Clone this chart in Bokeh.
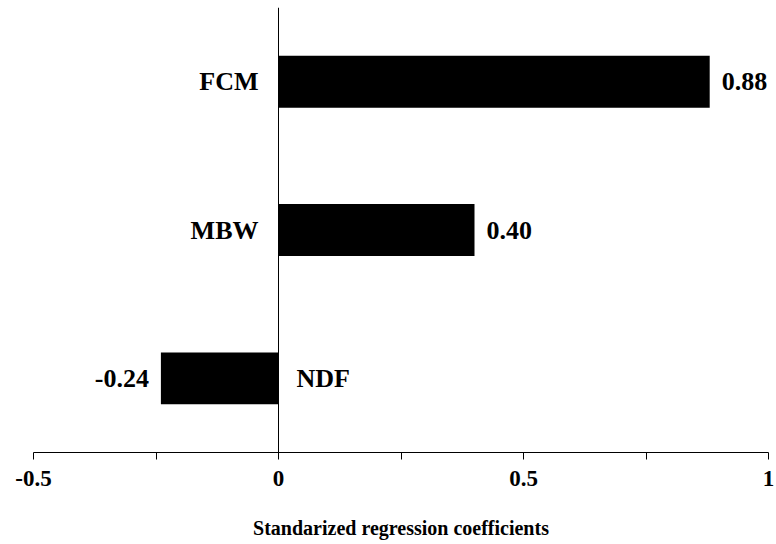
from bokeh.plotting import figure
from bokeh.models import ColumnDataSource, Span, FixedTicker, Range1d
from bokeh.core.properties import value
from bokeh.embed import file_html
from bokeh.resources import INLINE

categories = ["NDF", "MBW", "FCM"]
coefficients = [-0.24, 0.40, 0.88]
x_ticks = [-0.5, -0.25, 0, 0.25, 0.5, 0.75, 1]
x_tick_labels = {-0.5: "-0.5", -0.25: "", 0: "0", 0.25: "", 0.5: "0.5", 0.75: "", 1: "1"}
x_title = "Standarized regression coefficients"

FONT = value("Liberation Serif")

ypos = [i + 0.5 for i in range(len(categories))]
val_text = ["%.2f" % v for v in coefficients]
val_align = ["left" if v >= 0 else "right" for v in coefficients]
val_off = [12 if v >= 0 else -12 for v in coefficients]
cat_align = ["right" if v >= 0 else "left" for v in coefficients]
cat_off = [-20 if v >= 0 else 18 for v in coefficients]

src = ColumnDataSource(dict(y=ypos, v=coefficients, zero=[0] * len(ypos),
                            vt=val_text, va=val_align, vo=val_off,
                            cat=categories, ca=cat_align, co=cat_off))

p = figure(width=776, height=544, output_backend="svg", toolbar_location=None,
           x_range=Range1d(-0.5, 1), y_range=Range1d(0, 3),
           y_axis_location=None,
           min_border_left=33, min_border_right=8, min_border_top=7, min_border_bottom=92)
p.outline_line_color = None
p.xgrid.visible = False
p.ygrid.visible = False
p.background_fill_color = "white"
p.border_fill_color = "white"

p.hbar(y="y", left="zero", right="v", height=0.35, source=src,
       fill_color="black", line_color=None)

p.add_layout(Span(location=0, dimension="height", line_color="black", line_width=1))

p.text(x="v", y="y", text="vt", x_offset="vo", text_align="va", text_baseline="middle",
       text_font=FONT, text_font_style="bold", text_font_size="26px", text_color="black",
       source=src)
p.text(x="zero", y="y", text="cat", x_offset="co", text_align="ca", text_baseline="middle",
       text_font=FONT, text_font_style="bold", text_font_size="26px", text_color="black",
       source=src)

ax = p.xaxis[0]
ax.ticker = FixedTicker(ticks=x_ticks)
ax.major_label_overrides = x_tick_labels
ax.minor_tick_line_color = None
ax.major_tick_in = 0
ax.major_tick_out = 7
ax.axis_line_color = "black"
ax.major_tick_line_color = "black"
ax.major_label_text_font = "Liberation Serif"
ax.major_label_text_font_style = "bold"
ax.major_label_text_font_size = "23px"
ax.major_label_text_color = "black"
ax.major_label_standoff = 11
ax.axis_label = x_title
ax.axis_label_text_font = "Liberation Serif"
ax.axis_label_text_font_style = "bold"
ax.axis_label_text_font_size = "20px"
ax.axis_label_text_color = "black"
ax.axis_label_standoff = 28

open("out.html", "w").write(file_html(p, INLINE))
